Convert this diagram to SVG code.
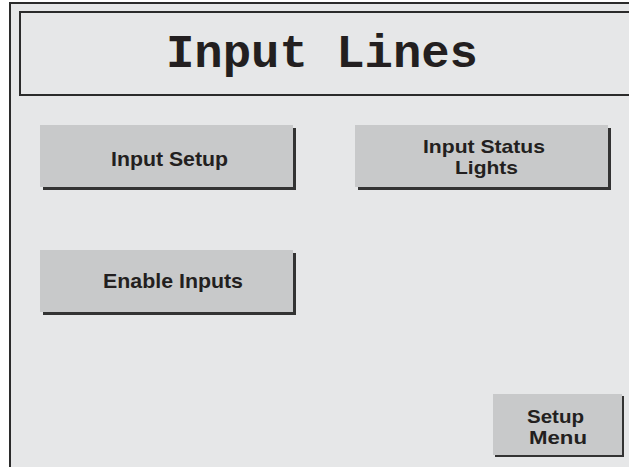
<svg xmlns="http://www.w3.org/2000/svg" width="629" height="467" viewBox="0 0 629 467">
<style>
.frame{fill:#e6e7e8;stroke:#2b2b2b;stroke-width:2}
.btn{fill:#c8c9ca}
.shd{fill:#333333}
.lbl{font-family:"Liberation Sans",Arial,sans-serif;font-weight:bold;font-size:20.5px;fill:#231f20;text-anchor:middle}
.lbl2{font-size:18.5px}
.title{font-family:"Liberation Mono","Courier New",monospace;font-weight:bold;font-size:47px;fill:#231f20;text-anchor:middle}
</style>
<rect x="0" y="0" width="629" height="467" fill="#ffffff"/>
<rect class="frame" x="10" y="3" width="630" height="475"/>
<g id="title">
<rect class="frame" x="20" y="12" width="620" height="83"/>
<text class="title" x="322" y="67" textLength="312" lengthAdjust="spacingAndGlyphs">Input Lines</text>
</g>
<g id="input-setup">
<rect class="shd" x="43" y="128" width="253" height="62"/>
<rect class="btn" x="40" y="125" width="253" height="62"/>
<text class="lbl" x="169.5" y="166" textLength="117" lengthAdjust="spacingAndGlyphs">Input Setup</text>
</g>
<g id="input-status-lights">
<rect class="shd" x="358" y="128" width="253" height="62"/>
<rect class="btn" x="355" y="125" width="253" height="62"/>
<text class="lbl lbl2" x="484" y="152.5" textLength="122" lengthAdjust="spacingAndGlyphs">Input Status</text>
<text class="lbl lbl2" x="486.5" y="173.5" textLength="63" lengthAdjust="spacingAndGlyphs">Lights</text>
</g>
<g id="enable-inputs">
<rect class="shd" x="43" y="253" width="253" height="62"/>
<rect class="btn" x="40" y="250" width="253" height="62"/>
<text class="lbl" x="173" y="288" textLength="140" lengthAdjust="spacingAndGlyphs">Enable Inputs</text>
</g>
<g id="setup-menu">
<rect class="shd" x="495" y="396" width="129" height="61"/>
<rect class="btn" x="493" y="394" width="129" height="61"/>
<text class="lbl lbl2" x="555.5" y="423" textLength="57" lengthAdjust="spacingAndGlyphs">Setup</text>
<text class="lbl lbl2" x="558" y="444" textLength="58" lengthAdjust="spacingAndGlyphs">Menu</text>
</g>
<g id="connectors"/>
</svg>
